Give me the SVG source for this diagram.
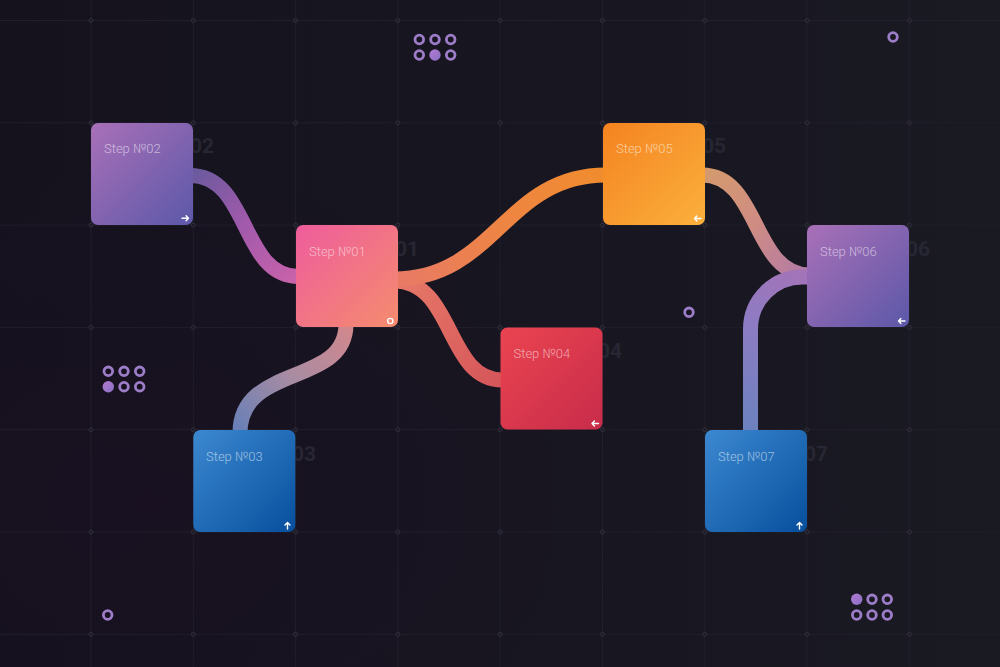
<svg xmlns="http://www.w3.org/2000/svg" width="1000" height="667" viewBox="0 0 1000 667">
<defs>
<style>
.grid line{stroke:#211f2b;stroke-width:1}
.gdot{fill:none;stroke:#302f3b;stroke-width:1}
.ring{fill:none;stroke:#9d7cc8;stroke-width:2.8}
.tube{fill:none;stroke-width:15;stroke-linecap:butt}
.lbl{font-family:Roboto,"Liberation Sans",sans-serif;font-weight:300;font-size:13px;fill:#ffffff;fill-opacity:0.55}
.num{font-family:Roboto,"Liberation Sans",sans-serif;font-weight:700;font-size:21px;fill:#272633;text-anchor:end}
.ico{fill:none;stroke:#ffffff;stroke-width:1.4;stroke-linecap:round;stroke-linejoin:round}
</style>
<linearGradient id="bg" x1="0" y1="0" x2="1" y2="0">
<stop offset="0" stop-color="#15121e"/>
<stop offset="1" stop-color="#1a1a23"/>
</linearGradient>
<radialGradient id="vig" cx="0.15" cy="0.75" r="0.5">
<stop offset="0" stop-color="#1a0f22" stop-opacity="0.6"/>
<stop offset="1" stop-color="#1a0f22" stop-opacity="0"/>
</radialGradient>
<linearGradient id="gPurple" x1="0" y1="0" x2="1" y2="1">
<stop offset="0" stop-color="#a970b8"/>
<stop offset="1" stop-color="#5c58a8"/>
</linearGradient>
<linearGradient id="gPink" x1="0" y1="0" x2="1" y2="1">
<stop offset="0" stop-color="#ee5c9c"/>
<stop offset="1" stop-color="#f58c6e"/>
</linearGradient>
<linearGradient id="gBlue" x1="0" y1="0" x2="1" y2="1">
<stop offset="0" stop-color="#3c88d0"/>
<stop offset="1" stop-color="#074f9d"/>
</linearGradient>
<linearGradient id="gRed" x1="0" y1="0" x2="1" y2="1">
<stop offset="0" stop-color="#ea4450"/>
<stop offset="1" stop-color="#c82c4a"/>
</linearGradient>
<linearGradient id="gOrange" x1="0" y1="0" x2="1" y2="1">
<stop offset="0" stop-color="#f48320"/>
<stop offset="1" stop-color="#fbb03d"/>
</linearGradient>
<linearGradient id="gDot" x1="0" y1="0" x2="1" y2="1">
<stop offset="0" stop-color="#b27ad2"/>
<stop offset="1" stop-color="#8a70c4"/>
</linearGradient>
<linearGradient id="t1" gradientUnits="userSpaceOnUse" x1="193" y1="175" x2="296" y2="277">
<stop offset="0" stop-color="#6c5a9e"/>
<stop offset="0.5" stop-color="#a25aac"/>
<stop offset="1" stop-color="#c862aa"/>
</linearGradient>
<linearGradient id="t2" gradientUnits="userSpaceOnUse" x1="346" y1="327" x2="240" y2="430">
<stop offset="0" stop-color="#d0888e"/>
<stop offset="0.5" stop-color="#a88ca2"/>
<stop offset="1" stop-color="#6a80b6"/>
</linearGradient>
<linearGradient id="t3" gradientUnits="userSpaceOnUse" x1="397" y1="280" x2="603" y2="175">
<stop offset="0" stop-color="#e87a66"/>
<stop offset="0.5" stop-color="#ee8444"/>
<stop offset="1" stop-color="#f08c2e"/>
</linearGradient>
<linearGradient id="t4" gradientUnits="userSpaceOnUse" x1="397" y1="282" x2="500" y2="380">
<stop offset="0" stop-color="#e67868"/>
<stop offset="1" stop-color="#d6575a"/>
</linearGradient>
<linearGradient id="t5" gradientUnits="userSpaceOnUse" x1="705" y1="175" x2="807" y2="275">
<stop offset="0" stop-color="#d49a6e"/>
<stop offset="0.5" stop-color="#cf8c84"/>
<stop offset="1" stop-color="#b27aa6"/>
</linearGradient>
<linearGradient id="t6" gradientUnits="userSpaceOnUse" x1="750" y1="430" x2="807" y2="277">
<stop offset="0" stop-color="#6c82be"/>
<stop offset="0.6" stop-color="#8c7cc4"/>
<stop offset="1" stop-color="#a274b8"/>
</linearGradient>
<path id="arr" d="M-3.5,0 H3 M0.6,-2.5 L3,0 L0.6,2.5"/>
</defs>

<g id="background">
<rect width="1000" height="667" fill="url(#bg)"/>
<rect width="1000" height="667" fill="url(#vig)"/>
</g>

<g id="grid" class="grid">
<line x1="91" y1="0" x2="91" y2="667"/>
<line x1="193.3" y1="0" x2="193.3" y2="667"/>
<line x1="295.6" y1="0" x2="295.6" y2="667"/>
<line x1="397.9" y1="0" x2="397.9" y2="667"/>
<line x1="500.2" y1="0" x2="500.2" y2="667"/>
<line x1="602.5" y1="0" x2="602.5" y2="667"/>
<line x1="704.8" y1="0" x2="704.8" y2="667"/>
<line x1="807.1" y1="0" x2="807.1" y2="667"/>
<line x1="909.4" y1="0" x2="909.4" y2="667"/>
<line x1="0" y1="20.5" x2="1000" y2="20.5"/>
<line x1="0" y1="122.8" x2="1000" y2="122.8"/>
<line x1="0" y1="225.1" x2="1000" y2="225.1"/>
<line x1="0" y1="327.4" x2="1000" y2="327.4"/>
<line x1="0" y1="429.7" x2="1000" y2="429.7"/>
<line x1="0" y1="532" x2="1000" y2="532"/>
<line x1="0" y1="634.3" x2="1000" y2="634.3"/>
</g>

<g id="grid-dots" class="gdot">
<circle cx="91" cy="20.5" r="2"/><circle cx="193.3" cy="20.5" r="2"/><circle cx="295.6" cy="20.5" r="2"/><circle cx="397.9" cy="20.5" r="2"/><circle cx="500.2" cy="20.5" r="2"/><circle cx="602.5" cy="20.5" r="2"/><circle cx="704.8" cy="20.5" r="2"/><circle cx="807.1" cy="20.5" r="2"/><circle cx="909.4" cy="20.5" r="2"/>
<circle cx="91" cy="122.8" r="2"/><circle cx="193.3" cy="122.8" r="2"/><circle cx="295.6" cy="122.8" r="2"/><circle cx="397.9" cy="122.8" r="2"/><circle cx="500.2" cy="122.8" r="2"/><circle cx="602.5" cy="122.8" r="2"/><circle cx="704.8" cy="122.8" r="2"/><circle cx="807.1" cy="122.8" r="2"/><circle cx="909.4" cy="122.8" r="2"/>
<circle cx="91" cy="225.1" r="2"/><circle cx="193.3" cy="225.1" r="2"/><circle cx="295.6" cy="225.1" r="2"/><circle cx="397.9" cy="225.1" r="2"/><circle cx="500.2" cy="225.1" r="2"/><circle cx="602.5" cy="225.1" r="2"/><circle cx="704.8" cy="225.1" r="2"/><circle cx="807.1" cy="225.1" r="2"/><circle cx="909.4" cy="225.1" r="2"/>
<circle cx="91" cy="327.4" r="2"/><circle cx="193.3" cy="327.4" r="2"/><circle cx="295.6" cy="327.4" r="2"/><circle cx="397.9" cy="327.4" r="2"/><circle cx="500.2" cy="327.4" r="2"/><circle cx="602.5" cy="327.4" r="2"/><circle cx="704.8" cy="327.4" r="2"/><circle cx="807.1" cy="327.4" r="2"/><circle cx="909.4" cy="327.4" r="2"/>
<circle cx="91" cy="429.7" r="2"/><circle cx="193.3" cy="429.7" r="2"/><circle cx="295.6" cy="429.7" r="2"/><circle cx="397.9" cy="429.7" r="2"/><circle cx="500.2" cy="429.7" r="2"/><circle cx="602.5" cy="429.7" r="2"/><circle cx="704.8" cy="429.7" r="2"/><circle cx="807.1" cy="429.7" r="2"/><circle cx="909.4" cy="429.7" r="2"/>
<circle cx="91" cy="532" r="2"/><circle cx="193.3" cy="532" r="2"/><circle cx="295.6" cy="532" r="2"/><circle cx="397.9" cy="532" r="2"/><circle cx="500.2" cy="532" r="2"/><circle cx="602.5" cy="532" r="2"/><circle cx="704.8" cy="532" r="2"/><circle cx="807.1" cy="532" r="2"/><circle cx="909.4" cy="532" r="2"/>
<circle cx="91" cy="634.3" r="2"/><circle cx="193.3" cy="634.3" r="2"/><circle cx="295.6" cy="634.3" r="2"/><circle cx="397.9" cy="634.3" r="2"/><circle cx="500.2" cy="634.3" r="2"/><circle cx="602.5" cy="634.3" r="2"/><circle cx="704.8" cy="634.3" r="2"/><circle cx="807.1" cy="634.3" r="2"/><circle cx="909.4" cy="634.3" r="2"/>
</g>

<g id="decor">
<circle class="ring" cx="419.3" cy="39.5" r="4.3"/><circle class="ring" cx="435" cy="39.5" r="4.3"/><circle class="ring" cx="450.7" cy="39.5" r="4.3"/>
<circle class="ring" cx="419.3" cy="55" r="4.3"/><circle cx="435" cy="55" r="5.7" fill="url(#gDot)"/><circle class="ring" cx="450.7" cy="55" r="4.3"/>
<circle class="ring" cx="893" cy="37" r="4.3"/>
<circle class="ring" cx="689" cy="312.3" r="4.3"/>
<circle class="ring" cx="108.3" cy="371.3" r="4.3"/><circle class="ring" cx="124" cy="371.3" r="4.3"/><circle class="ring" cx="139.7" cy="371.3" r="4.3"/>
<circle cx="108.3" cy="386.7" r="5.7" fill="url(#gDot)"/><circle class="ring" cx="124" cy="386.7" r="4.3"/><circle class="ring" cx="139.7" cy="386.7" r="4.3"/>
<circle class="ring" cx="107.7" cy="615" r="4.3"/>
<circle cx="856.7" cy="599.3" r="5.7" fill="url(#gDot)"/><circle class="ring" cx="872" cy="599.3" r="4.3"/><circle class="ring" cx="887.3" cy="599.3" r="4.3"/>
<circle class="ring" cx="856.7" cy="615" r="4.3"/><circle class="ring" cx="872" cy="615" r="4.3"/><circle class="ring" cx="887.3" cy="615" r="4.3"/>
</g>

<g id="connectors">
<path class="tube" stroke="url(#t1)" d="M190,175.5 C250,175.5 240,276.5 299,276.5"/>
<path class="tube" stroke="url(#t2)" d="M346,324 C346,387 240,363 240,433"/>
<path class="tube" stroke="url(#t4)" d="M394,281 C455,281 445,380 503,380"/>
<path class="tube" stroke="url(#t3)" d="M394,279 C495,279 505,175 606,175"/>
<path class="tube" stroke="url(#t5)" d="M702,175 C760,175 752,275 810,275"/>
<path class="tube" stroke="url(#t6)" d="M750.5,433 V329 A52,52 0 0 1 802.5,277 H810"/>
</g>

<g id="node-02">
<text class="num" x="214" y="153">02</text>
<rect x="91" y="123" width="102" height="102" rx="7" fill="url(#gPurple)"/>
<text class="lbl" x="104" y="153">Step №02</text>
<use href="#arr" class="ico" transform="translate(185.5,218.3)"/>
</g>

<g id="node-01">
<text class="num" x="419" y="256">01</text>
<rect x="296" y="225" width="102" height="102" rx="7" fill="url(#gPink)"/>
<text class="lbl" x="309" y="256">Step №01</text>
<circle class="ico" cx="390.3" cy="321" r="2.6"/>
</g>

<g id="node-03">
<text class="num" x="316" y="461">03</text>
<rect x="193.3" y="430" width="102" height="102" rx="7" fill="url(#gBlue)"/>
<text class="lbl" x="206" y="461">Step №03</text>
<use href="#arr" class="ico" transform="translate(287.5,525.5) rotate(-90)"/>
</g>

<g id="node-04">
<text class="num" x="622" y="358">04</text>
<rect x="500.5" y="327.5" width="102" height="102" rx="7" fill="url(#gRed)"/>
<text class="lbl" x="513.5" y="358">Step №04</text>
<use href="#arr" class="ico" transform="translate(595,423.5) rotate(180)"/>
</g>

<g id="node-05">
<text class="num" x="726" y="153">05</text>
<rect x="603" y="123" width="102" height="102" rx="7" fill="url(#gOrange)"/>
<text class="lbl" x="616" y="153">Step №05</text>
<use href="#arr" class="ico" transform="translate(697.5,218.5) rotate(180)"/>
</g>

<g id="node-06">
<text class="num" x="930" y="256">06</text>
<rect x="807" y="225" width="102" height="102" rx="7" fill="url(#gPurple)"/>
<text class="lbl" x="820" y="256">Step №06</text>
<use href="#arr" class="ico" transform="translate(901.5,321) rotate(180)"/>
</g>

<g id="node-07">
<text class="num" x="828" y="461">07</text>
<rect x="705" y="430" width="102" height="102" rx="7" fill="url(#gBlue)"/>
<text class="lbl" x="718" y="461">Step №07</text>
<use href="#arr" class="ico" transform="translate(799.5,525.5) rotate(-90)"/>
</g>
</svg>
